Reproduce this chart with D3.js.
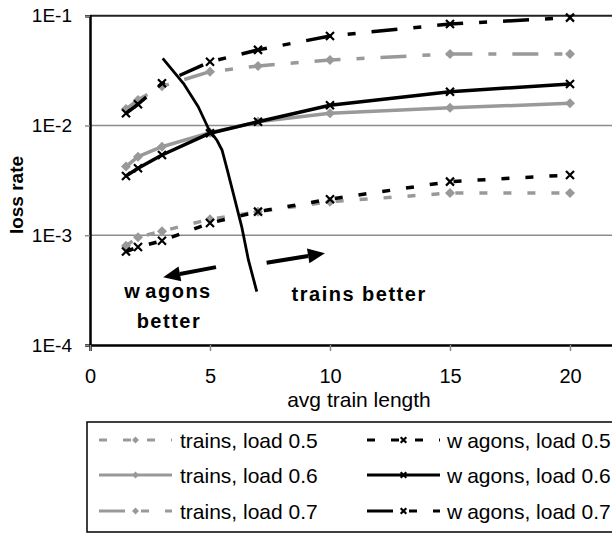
<!DOCTYPE html>
<html>
<head>
<meta charset="utf-8">
<script src="https://cdn.jsdelivr.net/npm/d3@7"></script>
<style>
  html, body { margin: 0; padding: 0; background: #fff; }
  svg { display: block; font-family: "Liberation Sans", Arial, sans-serif; }
</style>
</head>
<body>
<svg id="chart" width="612" height="534"></svg>
<script>
// Average train length (x) and measured loss rate per configuration
const trainLengths = [1.5, 2, 3, 5, 7, 10, 15, 20];
const trainsLoad05 = [0.0008, 0.00096, 0.00109, 0.0014, 0.00164, 0.00202, 0.00242, 0.00242];
const trainsLoad06 = [0.00422, 0.0052, 0.0064, 0.0086, 0.0108, 0.0129, 0.0145, 0.0159];
const trainsLoad07 = [0.0141, 0.0171, 0.0228, 0.0309, 0.0348, 0.0395, 0.0448, 0.0448];
const wagonsLoad05 = [0.00071, 0.00078, 0.00089, 0.00129, 0.00164, 0.00213, 0.00308, 0.00354];
const wagonsLoad06 = [0.00347, 0.00407, 0.00538, 0.0085, 0.0108, 0.0153, 0.0203, 0.0239];
const wagonsLoad07 = [0.0129, 0.0156, 0.0242, 0.038, 0.0488, 0.0653, 0.084, 0.096];

const xTickValues = [0, 5, 10, 15, 20];
const yTickValues = [1e-4, 1e-3, 1e-2, 1e-1];
const yTickLabels = ["1E-4", "1E-3", "1E-2", "1E-1"];

const seriesNames = ["trains, load 0.5", "trains, load 0.6", "trains, load 0.7",
                     "wagons, load 0.5", "wagons, load 0.6", "wagons, load 0.7"];

// Hand-drawn boundary between the "wagons better" and "trains better" regions
const dividerLengths = [3.03, 3.89, 4.51, 4.93, 5.28, 5.5, 5.72, 5.97, 6.32, 6.6, 6.95];
const dividerRates = [0.0409, 0.0242, 0.0148, 0.00943, 0.00738, 0.00598, 0.00394, 0.00241, 0.0012, 0.000596, 0.000306];

// Region arrows: [from length, from rate, to length, to rate]
const arrowLeft = [5.25, 0.000512, 3.05, 0.000415];
const arrowRight = [7.36, 0.000562, 9.79, 0.000686];

const GRAY = "#999999";
const LONG_DASH_DOT = "26,16,8,16";
const DASH = "8,16";

const series = [
  { name: seriesNames[0], values: trainsLoad05, color: GRAY, dash: DASH, marker: "diamond" },
  { name: seriesNames[1], values: trainsLoad06, color: GRAY, dash: null, marker: "diamond" },
  { name: seriesNames[2], values: trainsLoad07, color: GRAY, dash: LONG_DASH_DOT, marker: "diamond" },
  { name: seriesNames[3], values: wagonsLoad05, color: "#000", dash: DASH, marker: "cross" },
  { name: seriesNames[4], values: wagonsLoad06, color: "#000", dash: null, marker: "cross" },
  { name: seriesNames[5], values: wagonsLoad07, color: "#000", dash: LONG_DASH_DOT, marker: "cross" }
];

const svg = d3.select("#chart");

const x = d3.scaleLinear().domain([0, 22]).range([90, 618]);
const y = d3.scaleLog().domain([1e-4, 1e-1]).range([345, 15.7]);

const plotLeft = x(0), plotRight = x(22), plotTop = y(1e-1), plotBottom = y(1e-4);

svg.append("clipPath").attr("id", "plotClip")
  .append("rect")
  .attr("x", plotLeft).attr("y", plotTop - 6)
  .attr("width", plotRight - plotLeft).attr("height", plotBottom - plotTop + 6);

// gridlines
svg.append("g")
  .selectAll("line")
  .data([1e-3, 1e-2])
  .join("line")
  .attr("x1", plotLeft).attr("x2", plotRight)
  .attr("y1", d => y(d)).attr("y2", d => y(d))
  .attr("stroke", "#8c8c8c").attr("stroke-width", 1.5);

// top border of the plot area
svg.append("line")
  .attr("x1", plotLeft).attr("x2", plotRight)
  .attr("y1", plotTop).attr("y2", plotTop)
  .attr("stroke", "#222").attr("stroke-width", 2);

// y axis
const yAxis = d3.axisLeft(y)
  .tickValues(yTickValues)
  .tickFormat((d, i) => yTickLabels[i])
  .tickSizeOuter(0)
  .tickSize(5)
  .tickPadding(13);
const gy = svg.append("g").attr("transform", `translate(${plotLeft},0)`).call(yAxis);
gy.select(".domain").attr("stroke", "#000").attr("stroke-width", 2.5);
gy.selectAll(".tick line").attr("stroke", "#8c8c8c").attr("stroke-width", 1.5);
gy.selectAll(".tick text")
  .attr("fill", "#000")
  .style("font-size", "19px")
  .style("font-family", "'Liberation Sans', Arial, sans-serif");

// x axis
const xAxis = d3.axisBottom(x)
  .tickValues(xTickValues)
  .tickFormat(d3.format("d"))
  .tickSizeOuter(0)
  .tickSize(6)
  .tickPadding(18);
const gx = svg.append("g").attr("transform", `translate(0,${plotBottom})`).call(xAxis);
gx.select(".domain").attr("stroke", "#000").attr("stroke-width", 2.5);
gx.selectAll(".tick line").attr("stroke", "#8c8c8c").attr("stroke-width", 1.5);
gx.selectAll(".tick text")
  .attr("fill", "#000")
  .style("font-size", "20px")
  .style("font-family", "'Liberation Sans', Arial, sans-serif");

// axis titles
svg.append("text")
  .attr("x", 359).attr("y", 407)
  .attr("text-anchor", "middle")
  .style("font-size", "21px")
  .text("avg train length");

svg.append("text")
  .attr("transform", `translate(23,195) rotate(-90)`)
  .attr("text-anchor", "middle")
  .style("font-size", "19px")
  .style("font-weight", "bold")
  .text("loss rate");

// markers
function drawMarker(g, kind, cx, cy, color, size) {
  if (kind === "diamond") {
    g.append("path")
      .attr("d", `M${cx},${cy - size}L${cx + size},${cy}L${cx},${cy + size}L${cx - size},${cy}Z`)
      .attr("fill", color);
  } else {
    const s = size * 0.8;
    g.append("path")
      .attr("d", `M${cx - s},${cy - s}L${cx + s},${cy + s}M${cx - s},${cy + s}L${cx + s},${cy - s}`)
      .attr("stroke", color).attr("stroke-width", 2.2).attr("fill", "none");
  }
}

const line = d3.line()
  .x((d, i) => x(trainLengths[i]))
  .y(d => y(d));

const plot = svg.append("g").attr("clip-path", "url(#plotClip)");

series.forEach(s => {
  const g = plot.append("g");
  g.append("path")
    .attr("d", line(s.values))
    .attr("fill", "none")
    .attr("stroke", s.color)
    .attr("stroke-width", 3.5)
    .attr("stroke-dasharray", s.dash)
    .attr("stroke-linejoin", "round");
  s.values.forEach((v, i) => drawMarker(g, s.marker, x(trainLengths[i]), y(v), s.color, 5));
});

// divider curve
const dividerLine = d3.line()
  .x((d, i) => x(dividerLengths[i]))
  .y(d => y(d));
svg.append("path")
  .attr("d", dividerLine(dividerRates))
  .attr("fill", "none")
  .attr("stroke", "#000")
  .attr("stroke-width", 2.8)
  .attr("stroke-linejoin", "round");

// arrows
function drawArrow(a) {
  const x1 = x(a[0]), y1 = y(a[1]), x2 = x(a[2]), y2 = y(a[3]);
  const ang = Math.atan2(y2 - y1, x2 - x1);
  const headLen = 17, headHalf = 7.5;
  const bx = x2 - headLen * Math.cos(ang), by = y2 - headLen * Math.sin(ang);
  svg.append("line")
    .attr("x1", x1).attr("y1", y1).attr("x2", bx).attr("y2", by)
    .attr("stroke", "#000").attr("stroke-width", 4);
  const px = -Math.sin(ang) * headHalf, py = Math.cos(ang) * headHalf;
  svg.append("path")
    .attr("d", `M${x2},${y2}L${bx + px},${by + py}L${bx - px},${by - py}Z`)
    .attr("fill", "#000");
}
drawArrow(arrowLeft);
drawArrow(arrowRight);

// region labels
const noteStyle = t => t.style("font-size", "20px").style("font-weight", "bold").style("letter-spacing", "1.5px");

const wag = svg.append("text")
  .attr("x", x(3.25)).attr("y", y(0.000269))
  .attr("text-anchor", "middle")
  .call(noteStyle);
wag.append("tspan").text("w");
wag.append("tspan").attr("dx", 4).text("agons");

svg.append("text")
  .attr("x", x(3.29)).attr("y", y(0.000143))
  .attr("text-anchor", "middle")
  .call(noteStyle)
  .text("better");

svg.append("text")
  .attr("x", x(8.4)).attr("y", y(0.000252))
  .call(noteStyle)
  .text("trains better");

// legend
const legend = svg.append("g");
legend.append("rect")
  .attr("x", 87).attr("y", 422)
  .attr("width", 600).attr("height", 110)
  .attr("fill", "#fff")
  .attr("stroke", "#000").attr("stroke-width", 1.5);

const legendCols = [{ x0: 99, x1: 172, tx: 180 }, { x0: 367, x1: 440, tx: 447 }];
const legendRowY = [440, 475, 511];

series.forEach((s, k) => {
  const col = legendCols[Math.floor(k / 3)];
  const ly = legendRowY[k % 3];
  const g = legend.append("g");
  g.append("line")
    .attr("x1", col.x0).attr("x2", col.x1)
    .attr("y1", ly).attr("y2", ly)
    .attr("stroke", s.color).attr("stroke-width", 3)
    .attr("stroke-dasharray", s.dash);
  drawMarker(g, s.marker, (col.x0 + col.x1) / 2, ly, s.color, 3.5);
  const t = g.append("text")
    .attr("x", col.tx).attr("y", ly + 8)
    .style("font-size", "21px");
  if (s.name.startsWith("wagons")) {
    t.append("tspan").text("w");
    t.append("tspan").attr("dx", 5).text(s.name.slice(1));
  } else {
    t.text(s.name);
  }
});
</script>
</body>
</html>
